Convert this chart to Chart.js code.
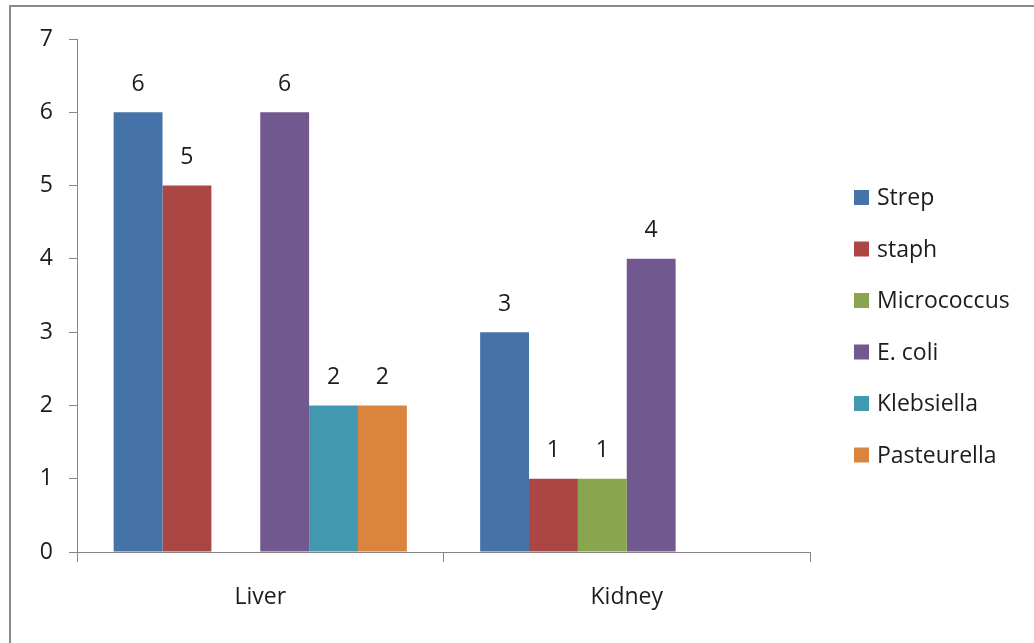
<!DOCTYPE html>
<html>
<head>
<meta charset="utf-8">
<script src="https://cdn.jsdelivr.net/npm/chart.js@4"></script>
<style>
  html, body { margin: 0; padding: 0; background: #fff; }
  #wrap { width: 1034px; height: 643px; position: relative; }
  canvas { display: block; }
</style>
</head>
<body>
<div id="wrap"><canvas id="c" width="1034" height="643"></canvas></div>
<script>
// Organ categories and isolate counts per organism
const categories = ['Liver', 'Kidney'];
const seriesNames = ['Strep', 'staph', 'Micrococcus', 'E. coli', 'Klebsiella', 'Pasteurella'];
const strep       = [6, 3];
const staph       = [5, 1];
const micrococcus = [null, 1];
const ecoli       = [6, 4];
const klebsiella  = [2, null];
const pasteurella = [2, null];
const yTicks = [0, 1, 2, 3, 4, 5, 6, 7];

const seriesValues = [strep, staph, micrococcus, ecoli, klebsiella, pasteurella];
const seriesColors = ['#4572A7', '#AA4643', '#89A54E', '#71588F', '#4198AF', '#DB843D'];

const FONT = '"Open Sans", "DejaVu Sans", sans-serif';
const FONT_SIZE = 23;
const TEXT = '#1c1c1c';
const AXIS = '#868686';

// Frame lines along the top and left edge
const framePlugin = {
  id: 'frame',
  afterDraw(chart) {
    const ctx = chart.ctx;
    ctx.save();
    ctx.fillStyle = '#8a8a8a';
    ctx.fillRect(9, 5, chart.width - 9, 2);
    ctx.fillRect(9, 5, 2, chart.height - 5);
    ctx.restore();
  }
};

// Value labels above each bar
const valueLabels = {
  id: 'valueLabels',
  afterDatasetsDraw(chart) {
    const ctx = chart.ctx;
    ctx.save();
    ctx.font = FONT_SIZE + 'px ' + FONT;
    ctx.fillStyle = TEXT;
    ctx.textAlign = 'center';
    ctx.textBaseline = 'middle';
    chart.data.datasets.forEach((ds, i) => {
      const meta = chart.getDatasetMeta(i);
      meta.data.forEach((bar, j) => {
        const v = ds.data[j];
        if (v === null || v === undefined) return;
        ctx.fillText(String(v), bar.x, bar.y - 28);
      });
    });
    ctx.restore();
  }
};

// Legend column on the right
const sideLegend = {
  id: 'sideLegend',
  afterDraw(chart) {
    const ctx = chart.ctx;
    ctx.save();
    ctx.font = FONT_SIZE + 'px ' + FONT;
    ctx.textBaseline = 'middle';
    chart.data.datasets.forEach((ds, i) => {
      const cy = 197.5 + i * 51.5;
      ctx.fillStyle = ds.backgroundColor;
      ctx.fillRect(854, cy - 7.5, 15, 15);
      ctx.fillStyle = TEXT;
      ctx.fillText(ds.label, 877, cy + 1);
    });
    ctx.restore();
  }
};

const datasets = seriesNames.map((name, i) => ({
  label: name,
  data: seriesValues[i],
  backgroundColor: seriesColors[i],
  borderWidth: 0,
  categoryPercentage: 0.8,
  barPercentage: 1.0
}));

new Chart(document.getElementById('c'), {
  type: 'bar',
  data: { labels: categories, datasets },
  options: {
    responsive: false,
    animation: false,
    devicePixelRatio: 1,
    layout: { padding: { top: 39, right: 224, bottom: 0, left: 0 } },
    plugins: {
      legend: { display: false },
      tooltip: { enabled: false }
    },
    scales: {
      x: {
        offset: true,
        grid: {
          offset: true,
          drawOnChartArea: false,
          drawTicks: true,
          tickLength: 10,
          color: AXIS
        },
        border: { color: AXIS, width: 1 },
        ticks: {
          color: TEXT,
          font: { family: FONT, size: FONT_SIZE },
          padding: 22
        },
        afterFit(scale) { scale.height = 91; }
      },
      y: {
        min: 0,
        max: 7,
        afterBuildTicks(scale) { scale.ticks = yTicks.map(v => ({ value: v })); },
        grid: {
          drawOnChartArea: false,
          drawTicks: true,
          tickLength: 8,
          color: AXIS
        },
        border: { color: AXIS, width: 1 },
        ticks: {
          color: TEXT,
          font: { family: FONT, size: FONT_SIZE },
          padding: 16
        },
        afterFit(scale) { scale.width = 77; }
      }
    }
  },
  plugins: [valueLabels, sideLegend, framePlugin]
});
</script>
</body>
</html>
